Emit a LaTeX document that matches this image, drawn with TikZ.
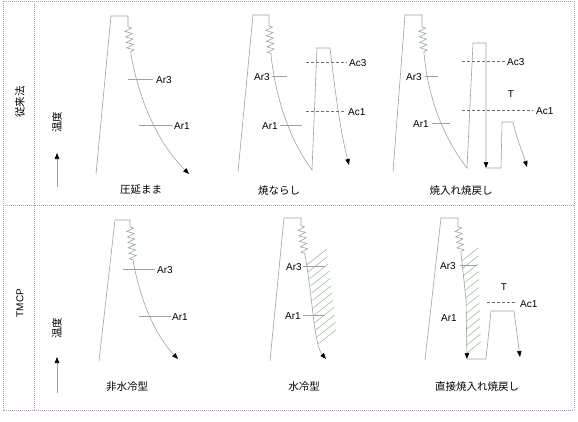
\documentclass[tikz,border=0pt]{standalone}
\usepackage{fontspec}
\setmainfont{Liberation Sans}
\newfontfamily\jp{Noto Sans CJK JP}
\usetikzlibrary{arrows.meta,decorations.pathmorphing}
\definecolor{framec}{RGB}{175,155,180}
\definecolor{curvec}{RGB}{150,168,150}
\definecolor{hatchc}{RGB}{150,178,150}
\definecolor{tickc}{RGB}{160,160,160}
\definecolor{acc}{RGB}{110,110,110}
\begin{document}
\begin{tikzpicture}[x=1pt,y=-1pt,
 frame/.style={draw=framec, line width=0.7pt, dash pattern=on 1pt off 1pt},
 curve/.style={draw=curvec, line width=0.6pt},
 tip/.style={-{Triangle[length=6pt,width=4.5pt,color=black,fill=black]}},
 zz/.style={decorate,decoration={zigzag,segment length=5.5pt,amplitude=3.5pt}},
 lbl/.style={font=\fontsize{10}{12}\selectfont,inner sep=0pt},
 jlbl/.style={font=\jp\fontsize{10.5}{12}\selectfont,inner sep=0pt},
 tick/.style={draw=tickc,line width=0.6pt},
 acl/.style={draw=acc, line width=0.6pt, dash pattern=on 3pt off 2pt},
 hatch/.style={draw=hatchc, line width=0.5pt},
 axarrow/.style={draw=tickc,line width=0.6pt,-{Triangle[length=6pt,width=4.5pt,color=black,fill=black]}}]
\useasboundingbox (0,0) rectangle (578,421);
% frame
\draw[frame] (3,1) rectangle (574,410);
\draw[frame] (34,1) -- (34,410);
\draw[frame] (3,205) -- (574,205);
% row labels
\node[jlbl,rotate=90] (row1) at (20,102) {従来法};
\node[lbl,rotate=90] (row2) at (20,303) {TMCP};
% temperature axes
\node[jlbl,rotate=90] (temp1) at (57,122) {温度};
\coordinate (ta1) at (57,187); \coordinate (tb1) at (57,153);
\draw[axarrow] (ta1) -- (tb1);
\node[jlbl,rotate=90] (temp2) at (57,328) {温度};
\coordinate (ta2) at (57,393); \coordinate (tb2) at (57,357);
\draw[axarrow] (ta2) -- (tb2);

% ---------- Panel 1 ----------
\draw[curve] (96,174) -- (111,16) -- (128,16) -- (128,27);
\draw[curve,zz] (128,27) -- (131,54);
\draw[curve,tip] (131,54) .. controls (138,95) and (155,140) .. (189,174);
\draw[tick] (128,79) -- (153,79);
\draw[tick] (139,125) -- (172,125);
\node[lbl,anchor=west] (p1ar3) at (156,80) {Ar3};
\node[lbl,anchor=west] (p1ar1) at (174,126) {Ar1};
\node[jlbl] (p1t) at (141,190) {圧延まま};

% ---------- Panel 2 ----------
\draw[curve] (238,172) -- (253,15) -- (269,15) -- (269,26);
\draw[curve,zz] (269,26) -- (271,55);
\draw[curve,tip] (271,55) .. controls (276,100) and (290,140) .. (312,170) -- (317,48) -- (330,48) .. controls (335,90) and (340,130) .. (349,165);
\draw[tick] (272,76) -- (287,76);
\draw[tick] (280,125) -- (302,125);
\draw[acl] (306,62) -- (347,62);
\draw[acl] (306,111) -- (345,111);
\node[lbl,anchor=east] (p2ar3) at (270,77) {Ar3};
\node[lbl,anchor=east] (p2ar1) at (278,126) {Ar1};
\node[lbl,anchor=west] (p2ac3) at (349,63) {Ac3};
\node[lbl,anchor=west] (p2ac1) at (348,112) {Ac1};
\node[jlbl] (p2t) at (279,191) {焼ならし};

% ---------- Panel 3 ----------
\draw[curve] (393,172) -- (405,15) -- (422,15) -- (422,27);
\draw[curve,zz] (422,27) -- (424,53);
\draw[curve,tip] (424,53) .. controls (428,100) and (445,140) .. (467,168) -- (473,43) -- (486,43) -- (486,168);
\draw[curve,tip] (486,168) -- (501,168) -- (502,122) -- (513,122) .. controls (517,140) and (522,150) .. (527,167);
\draw[tick] (425,76) -- (438,76);
\draw[tick] (432,123) -- (450,123);
\draw[acl] (462,61) -- (505,61);
\draw[acl] (462,110) -- (533,110);
\node[lbl,anchor=east] (p3ar3) at (422,77) {Ar3};
\node[lbl,anchor=east] (p3ar1) at (429,124) {Ar1};
\node[lbl,anchor=west] (p3ac3) at (507,62) {Ac3};
\node[lbl] (p3T) at (511,94) {T};
\node[lbl,anchor=west] (p3ac1) at (536,111) {Ac1};
\node[jlbl] (p3t) at (461,191) {焼入れ焼戻し};

% ---------- Panel 4 ----------
\draw[curve] (99,361) -- (115,220) -- (130,220) -- (130,227);
\draw[curve,zz] (130,227) -- (133,260);
\draw[curve,tip] (133,260) .. controls (140,300) and (155,335) .. (178,359);
\draw[tick] (123,269) -- (155,269);
\draw[tick] (139,316) -- (171,316);
\node[lbl,anchor=west] (p4ar3) at (157,270) {Ar3};
\node[lbl,anchor=west] (p4ar1) at (172,317) {Ar1};
\node[jlbl] (p4t) at (127,387) {非水冷型};

% ---------- Panel 5 ----------
\begin{scope}
\clip (306,259) -- (308,272) -- (312,292) -- (314,315) -- (316,345) -- (337,334) -- (326,243) -- cycle;
\foreach \yy in {262,270,...,398} \draw[hatch] (290,\yy) -- ++(60,-47);
\end{scope}
\draw[curve] (270,361) -- (284,218) -- (301,218) -- (301,226);
\draw[curve,zz] (301,226) -- (305,255);
\draw[curve,tip] (305,255) .. controls (313,300) and (314,345) .. (326,359);
\draw[tick] (303,266) -- (325,266);
\draw[tick] (303,315) -- (325,315);
\node[lbl,anchor=east] (p5ar3) at (302,267) {Ar3};
\node[lbl,anchor=east] (p5ar1) at (301,316) {Ar1};
\node[jlbl] (p5t) at (304,387) {水冷型};

% ---------- Panel 6 ----------
\begin{scope}
\clip (461,256) -- (466,300) -- (467,356) -- (481,350) -- (478,246) -- cycle;
\foreach \yy in {262,270,...,398} \draw[hatch] (450,\yy) -- ++(50,-39);
\end{scope}
\draw[curve] (425,360) -- (441,218) -- (458,218) -- (458,227);
\draw[curve,zz] (458,227) -- (461,253);
\draw[curve,tip] (461,253) -- (466,300) -- (467,359);
\draw[curve,tip] (467,359) -- (486,359) -- (491,311) -- (514,311) -- (520,357);
\draw[tick] (460,265) -- (477,265);
\draw[acl] (487,302) -- (517,302);
\node[lbl,anchor=east] (p6ar3) at (456,266) {Ar3};
\node[lbl,anchor=west] (p6ar1) at (441,318) {Ar1};
\node[lbl] (p6T) at (504,287) {T};
\node[lbl,anchor=west] (p6ac1) at (520,304) {Ac1};
\node[jlbl] (p6t) at (477,387) {直接焼入れ焼戻し};
\end{tikzpicture}
\end{document}
